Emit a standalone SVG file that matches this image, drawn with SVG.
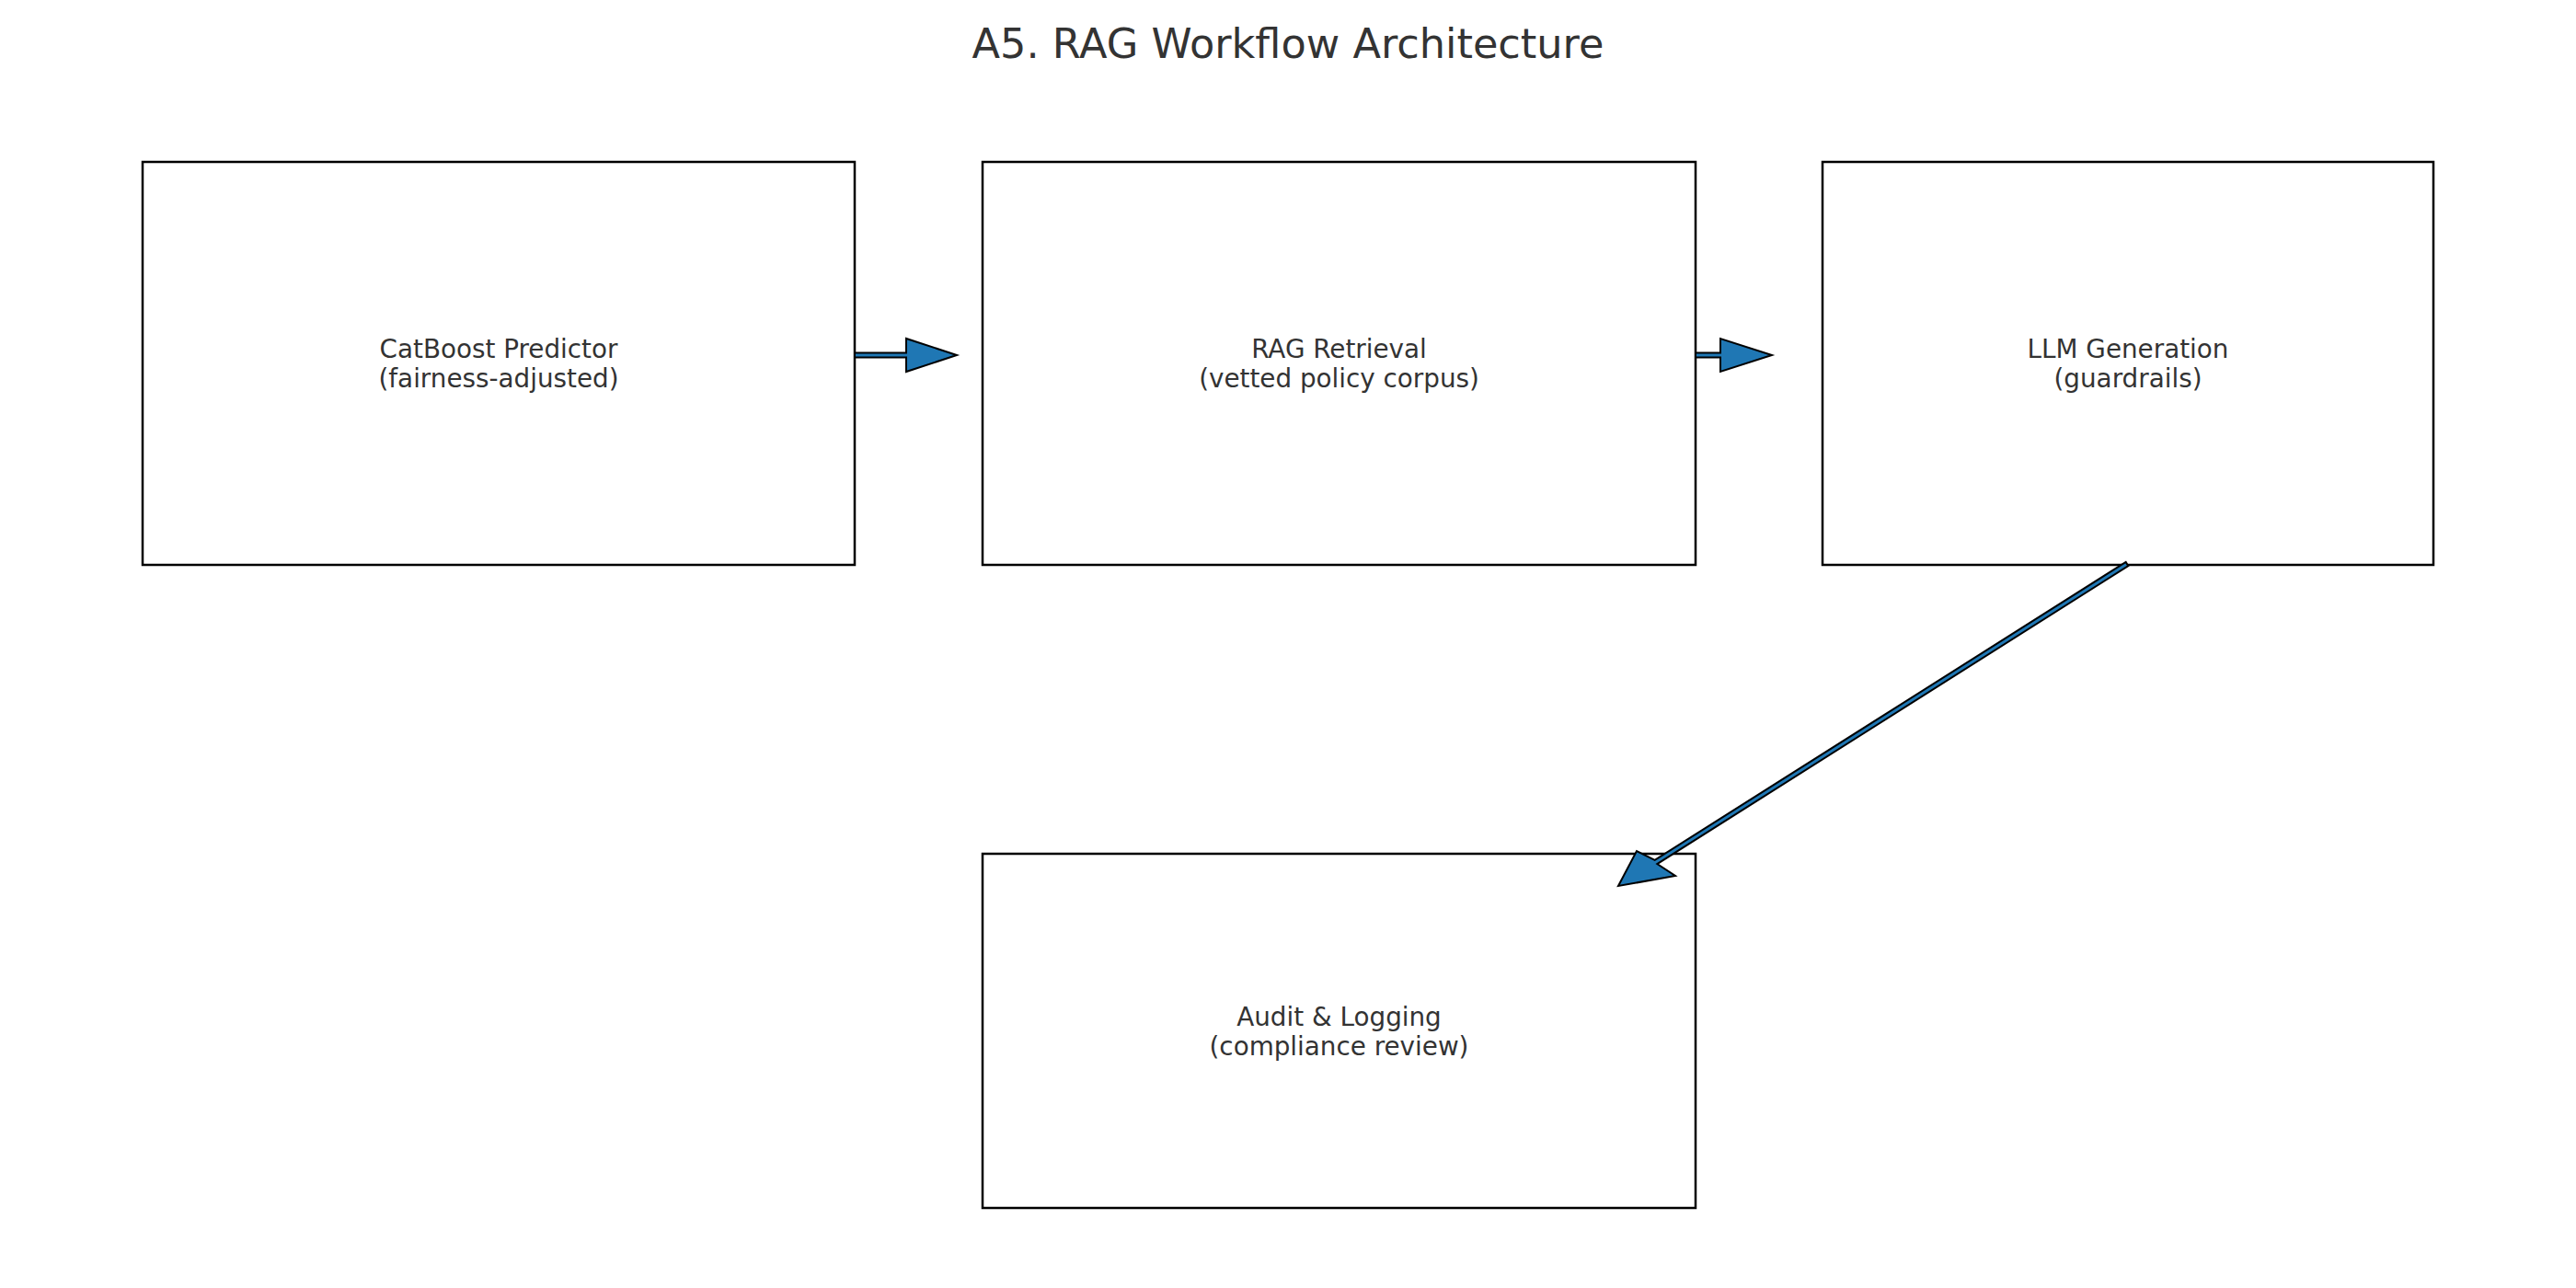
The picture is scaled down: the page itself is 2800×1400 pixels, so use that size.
<svg xmlns="http://www.w3.org/2000/svg" width="2800" height="1400" viewBox="0 0 2800 1400">
<style>
.box{fill:#ffffff;stroke:#000000;stroke-width:2.5}
.lbl{font-family:"DejaVu Sans",sans-serif;font-size:27.8px;fill:#333333;text-anchor:middle}
.title{font-family:"DejaVu Sans",sans-serif;font-size:44.6px;fill:#333333;text-anchor:middle}
.arr{fill:#1f77b4;stroke:#000000;stroke-width:2;stroke-linejoin:miter}
</style>
<rect x="0" y="0" width="2800" height="1400" fill="#ffffff"/>
<text class="title" x="1400" y="63">A5. RAG Workflow Architecture</text>
<g id="catboost">
<rect class="box" x="155" y="176" width="774" height="438"/>
<text class="lbl" x="542" y="389">CatBoost Predictor</text>
<text class="lbl" x="542" y="421">(fairness-adjusted)</text>
</g>
<g id="rag">
<rect class="box" x="1068" y="176" width="775" height="438"/>
<text class="lbl" x="1455.5" y="389">RAG Retrieval</text>
<text class="lbl" x="1455.5" y="421">(vetted policy corpus)</text>
</g>
<g id="llm">
<rect class="box" x="1981" y="176" width="664" height="438"/>
<text class="lbl" x="2313" y="389">LLM Generation</text>
<text class="lbl" x="2313" y="421">(guardrails)</text>
</g>
<g id="audit">
<rect class="box" x="1068" y="928" width="775" height="385"/>
<text class="lbl" x="1455.5" y="1115">Audit &amp; Logging</text>
<text class="lbl" x="1455.5" y="1147">(compliance review)</text>
</g>
<g id="connectors">
<polygon class="arr" points="929,383.5 985,383.5 985,368 1040,386 985,404 985,388.5 929,388.5"/>
<polygon class="arr" points="1843,383.5 1870,383.5 1870,368 1926,386 1870,404 1870,388.5 1843,388.5"/>
<polygon class="arr" points="2313.3,615.1 1801.3,939.1 1821,952 1759,963 1779,925 1798.7,934.9 2310.7,610.9"/>
</g>
</svg>
